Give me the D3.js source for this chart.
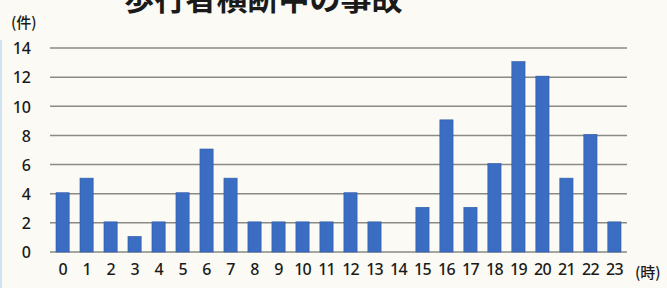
<!DOCTYPE html>
<html>
<head>
<meta charset="utf-8">
<script src="https://cdn.jsdelivr.net/npm/d3@7"></script>
<style>
  body { margin: 0; background: #fbfaf4; }
  svg { display: block; }
  text { font-family: "Noto Sans CJK JP", "Noto Sans", sans-serif; fill: #1a1a1a; }
</style>
</head>
<body>
<div id="chart-container"></div>
<script>
// chart size
const svgWidth = 667;
const svgHeight = 288;
const margin = { top: 48, right: 40, bottom: 36, left: 50 };
const width = svgWidth - margin.left - margin.right;
const height = svgHeight - margin.top - margin.bottom;

// data
const hours = ["0","1","2","3","4","5","6","7","8","9","10","11","12","13","14","15","16","17","18","19","20","21","22","23"];
const counts = [4, 5, 2, 1, 2, 4, 7, 5, 2, 2, 2, 2, 4, 2, 0, 3, 9, 3, 6, 13, 12, 5, 8, 2];
const yTicks = [0, 2, 4, 6, 8, 10, 12, 14];

const titleText = "歩行者横断中の事故";

const svg = d3.select("#chart-container")
    .append("svg")
    .attr("width", svgWidth)
    .attr("height", svgHeight);

// faint blue edge on the left like the scan
svg.append("rect")
    .attr("x", 0).attr("y", 40)
    .attr("width", 2).attr("height", svgHeight - 40)
    .attr("fill", "#cfe3f3");

const g = svg.append("g")
    .attr("transform", `translate(${margin.left},${margin.top})`);

const x = d3.scaleBand()
    .domain(hours)
    .range([0, width])
    .paddingInner(0.45)
    .paddingOuter(0.25);

const y = d3.scaleLinear()
    .domain([0, 14])
    .range([height, 0]);

// grid lines
g.selectAll(".grid")
    .data(yTicks)
    .enter()
    .append("line")
    .attr("class", "grid")
    .attr("x1", 0)
    .attr("x2", width)
    .attr("y1", d => y(d))
    .attr("y2", d => y(d))
    .attr("stroke", "#8a8a86")
    .attr("stroke-width", 1.5);

// y axis labels
const yAxis = g.append("g")
    .attr("class", "axis axis-y")
    .call(d3.axisLeft(y).tickValues(yTicks).tickSize(0).tickPadding(19));
yAxis.select(".domain").remove();
yAxis.selectAll("text")
    .attr("font-size", 16)
    .attr("font-weight", 500)
    .attr("dy", "0.36em")
    .style("font-family", "'Noto Sans', sans-serif");

// bars
g.selectAll(".bar")
    .data(counts)
    .enter()
    .append("rect")
    .attr("class", "bar")
    .attr("x", (d, i) => x(hours[i]))
    .attr("y", d => y(d) - 1)
    .attr("width", x.bandwidth())
    .attr("height", d => d > 0 ? height - y(d) + 1 : 0)
    .attr("fill", "#3b6dc2")
    .attr("stroke", "#2f5aa6")
    .attr("stroke-width", 0.6);

// x axis labels
const xAxis = g.append("g")
    .attr("class", "axis axis-x")
    .attr("transform", `translate(0, ${height})`)
    .call(d3.axisBottom(x).tickSize(0).tickPadding(12));
xAxis.select(".domain").remove();
xAxis.selectAll("text")
    .attr("font-size", 16)
    .attr("font-weight", 500)
    .attr("letter-spacing", -0.8)
    .style("font-family", "'Noto Sans', sans-serif");

// unit labels
svg.append("text")
    .text("(件)")
    .attr("x", 11)
    .attr("y", 28)
    .attr("font-size", 15)
    .attr("font-weight", 500);

svg.append("text")
    .text("(時)")
    .attr("x", 635)
    .attr("y", 278)
    .attr("font-size", 15)
    .attr("font-weight", 500);

// title, cut by the top edge
svg.append("text")
    .text(titleText)
    .attr("class", "title")
    .attr("x", 263)
    .attr("y", 10)
    .attr("text-anchor", "middle")
    .attr("font-size", 31)
    .attr("font-weight", "bold");
</script>
</body>
</html>
